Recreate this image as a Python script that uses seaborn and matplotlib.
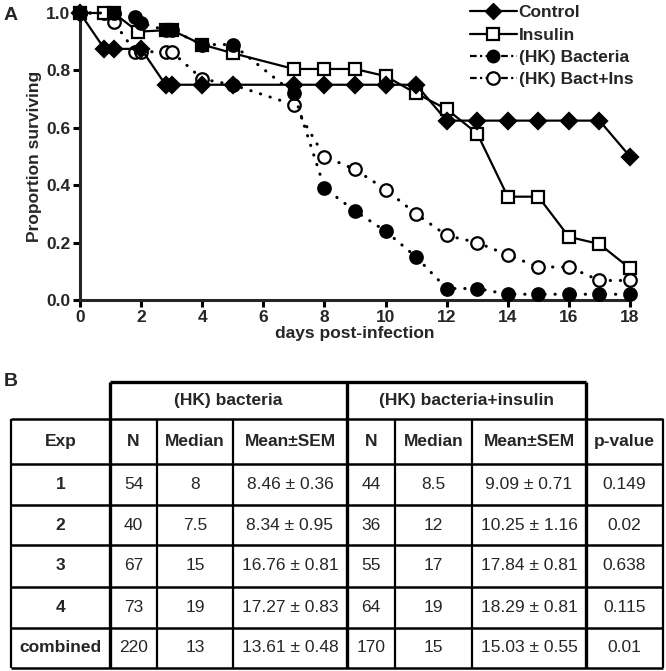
import matplotlib
matplotlib.use('Agg')
import matplotlib.pyplot as plt
from matplotlib.lines import Line2D
import seaborn as sns


# ---- panel A: survival curves ----
days_control = [0, 0.8, 1.1, 2, 2.8, 3, 4, 5, 7, 8, 9, 10, 11, 12, 13, 14, 15, 16, 17, 18]
surv_control = [1.0, 0.875, 0.875, 0.875, 0.75, 0.75, 0.75, 0.75, 0.75, 0.75,
                0.75, 0.75, 0.75, 0.625, 0.625, 0.625, 0.625, 0.625, 0.625, 0.5]

days_insulin = [0, 0.8, 1.1, 1.9, 2.8, 3, 4, 5, 7, 8, 9, 10, 11, 12, 13, 14, 15, 16, 17, 18]
surv_insulin = [1.0, 1.0, 1.0, 0.935, 0.94, 0.94, 0.89, 0.86, 0.805, 0.805,
                0.805, 0.78, 0.72, 0.665, 0.58, 0.36, 0.36, 0.22, 0.195, 0.11]

days_bact = [0, 1.1, 1.8, 2, 2.8, 3, 4, 5, 7, 8, 9, 10, 11, 12, 13, 14, 15, 16, 17, 18]
surv_bact = [1.0, 1.0, 0.985, 0.965, 0.94, 0.94, 0.89, 0.89, 0.72, 0.39,
             0.31, 0.24, 0.15, 0.04, 0.04, 0.02, 0.02, 0.02, 0.02, 0.02]

days_bact_ins = [0, 0.8, 1.1, 1.8, 2, 2.8, 3, 4, 5, 7, 8, 9, 10, 11, 12, 13, 14, 15, 16, 17, 18]
surv_bact_ins = [1.0, 1.0, 0.97, 0.865, 0.865, 0.865, 0.865, 0.77, 0.75, 0.68, 0.50,
                 0.455, 0.385, 0.30, 0.225, 0.20, 0.157, 0.115, 0.115, 0.068, 0.068]

series_labels = ['Control', 'Insulin', '(HK) Bacteria', '(HK) Bact+Ins']

# ---- panel B: table ----
group_labels = ['(HK) bacteria', '(HK) bacteria+insulin']
col_labels = ['Exp', 'N', 'Median', 'Mean\u00b1SEM', 'N', 'Median', 'Mean\u00b1SEM', 'p-value']
exp_labels = ['1', '2', '3', '4', 'combined']
n_bact = ['54', '40', '67', '73', '220']
median_bact = ['8', '7.5', '15', '19', '13']
mean_bact = ['8.46 \u00b1 0.36', '8.34 \u00b1 0.95', '16.76 \u00b1 0.81', '17.27 \u00b1 0.83', '13.61 \u00b1 0.48']
n_ins = ['44', '36', '55', '64', '170']
median_ins = ['8.5', '12', '17', '19', '15']
mean_ins = ['9.09 \u00b1 0.71', '10.25 \u00b1 1.16', '17.84 \u00b1 0.81', '18.29 \u00b1 0.81', '15.03 \u00b1 0.55']
p_values = ['0.149', '0.02', '0.638', '0.115', '0.01']


W, H = 666, 671
LW = 1.6
MEW = 1.6
DOT = (0, (0.1, 3.2))

sns.set_theme(style='ticks')
plt.rcParams['font.family'] = ['Liberation Sans', 'DejaVu Sans']
plt.rcParams['axes.linewidth'] = 2.2

fig = plt.figure(figsize=(W / 100, H / 100), dpi=100)

ax = fig.add_axes([80 / W, 1 - 300 / H, 550 / W, 287 / H])

common = dict(ax=ax, estimator=None, sort=False, color='black', clip_on=False)
sns.lineplot(x=days_bact_ins, y=surv_bact_ins, linestyle=DOT, lw=2.2,
             dash_capstyle='round', marker='o', markersize=9,
             markerfacecolor='white', markeredgecolor='black', markeredgewidth=MEW,
             zorder=3, **common)
sns.lineplot(x=days_insulin, y=surv_insulin, lw=LW, marker='s', markersize=9,
             markerfacecolor='white', markeredgecolor='black', markeredgewidth=MEW,
             zorder=4, **common)
sns.lineplot(x=days_bact, y=surv_bact, linestyle=DOT, lw=2.2,
             dash_capstyle='round', marker='o', markersize=9,
             markerfacecolor='black', markeredgecolor='black', markeredgewidth=MEW,
             zorder=5, **common)
sns.lineplot(x=days_control, y=surv_control, lw=LW, marker='D', markersize=8,
             markerfacecolor='black', markeredgecolor='black', markeredgewidth=MEW,
             zorder=6, **common)

ax.set_xlim(0, 18)
ax.set_ylim(0, 1.0)
ax.set_xticks(range(0, 19, 2))
ax.set_yticks([0, 0.2, 0.4, 0.6, 0.8, 1.0])
ax.set_yticklabels(['0.0', '0.2', '0.4', '0.6', '0.8', '1.0'])
ax.tick_params(length=5, width=2.2, pad=2, labelsize=12.5, color='black')
for lab in ax.get_xticklabels() + ax.get_yticklabels():
    lab.set_fontweight('bold')
ax.set_xlabel('days post-infection', fontsize=12.5, fontweight='bold', labelpad=1)
ax.set_ylabel('Proportion surviving', fontsize=12.5, fontweight='bold', labelpad=3)
sns.despine(ax=ax)
ax.patch.set_alpha(0)

handles = [
    Line2D([], [], color='black', lw=LW, marker='D', markersize=8, markerfacecolor='black'),
    Line2D([], [], color='black', lw=LW, marker='s', markersize=9, markerfacecolor='white',
           markeredgewidth=MEW),
    Line2D([], [], color='black', lw=LW, linestyle=(0, (3, 1.5, 1, 1.5)), marker='o',
           markersize=9, markerfacecolor='black'),
    Line2D([], [], color='black', lw=LW, linestyle=(0, (3, 1.5, 1, 1.5)), marker='o',
           markersize=9, markerfacecolor='white', markeredgewidth=MEW),
]
leg = ax.legend(handles, series_labels, loc='upper left',
                bbox_to_anchor=(470 / W, 1 - 5 / H), bbox_transform=fig.transFigure,
                frameon=False, borderpad=0, borderaxespad=0, handlelength=2.7,
                handletextpad=0.1, labelspacing=0.42,
                prop={'weight': 'bold', 'size': 12.5})

# ---- overlay axes in pixel coordinates for letters and the table ----
tx = fig.add_axes([0, 0, 1, 1], zorder=-1)
tx.set_xlim(0, W)
tx.set_ylim(H, 0)
tx.axis('off')

tx.text(4, 16, 'A', fontsize=14, fontweight='bold', va='center', ha='left')
tx.text(4, 381, 'B', fontsize=14, fontweight='bold', va='center', ha='left')

col_edges = [11, 110, 157, 233, 347, 395, 472, 586, 663]
group_top, head_top, head_bot = 382, 419, 464
row_edges = [464, 505, 545, 587, 628, 668]
thick_cols = {110, 347, 586}

# group header box
tx.hlines(group_top, 110, 586, color='black', lw=2.4)
for x in (110, 347, 586):
    tx.vlines(x, group_top, head_top, color='black', lw=2.4)
# horizontal rules
for y in [head_top] + row_edges:
    tx.hlines(y, col_edges[0], col_edges[-1], color='black', lw=1.8)
# vertical rules
for x in col_edges:
    tx.vlines(x, head_top, row_edges[-1], color='black', lw=2.4 if x in thick_cols else 1.6)

centers = [(a + b) / 2 for a, b in zip(col_edges[:-1], col_edges[1:])]
tx.text((110 + 347) / 2, (group_top + head_top) / 2, group_labels[0],
        fontsize=12.5, fontweight='bold', ha='center', va='center')
tx.text((347 + 586) / 2, (group_top + head_top) / 2, group_labels[1],
        fontsize=12.5, fontweight='bold', ha='center', va='center')
for cx, lab in zip(centers, col_labels):
    tx.text(cx, (head_top + head_bot) / 2, lab, fontsize=12.5, fontweight='bold',
            ha='center', va='center')

columns = [exp_labels, n_bact, median_bact, mean_bact, n_ins, median_ins, mean_ins, p_values]
for j, col in enumerate(columns):
    for i, val in enumerate(col):
        cy = (row_edges[i] + row_edges[i + 1]) / 2
        tx.text(centers[j], cy, val, fontsize=12.5,
                fontweight='bold' if j == 0 else 'normal',
                ha='center', va='center')

fig.savefig('out.png', dpi=100)
